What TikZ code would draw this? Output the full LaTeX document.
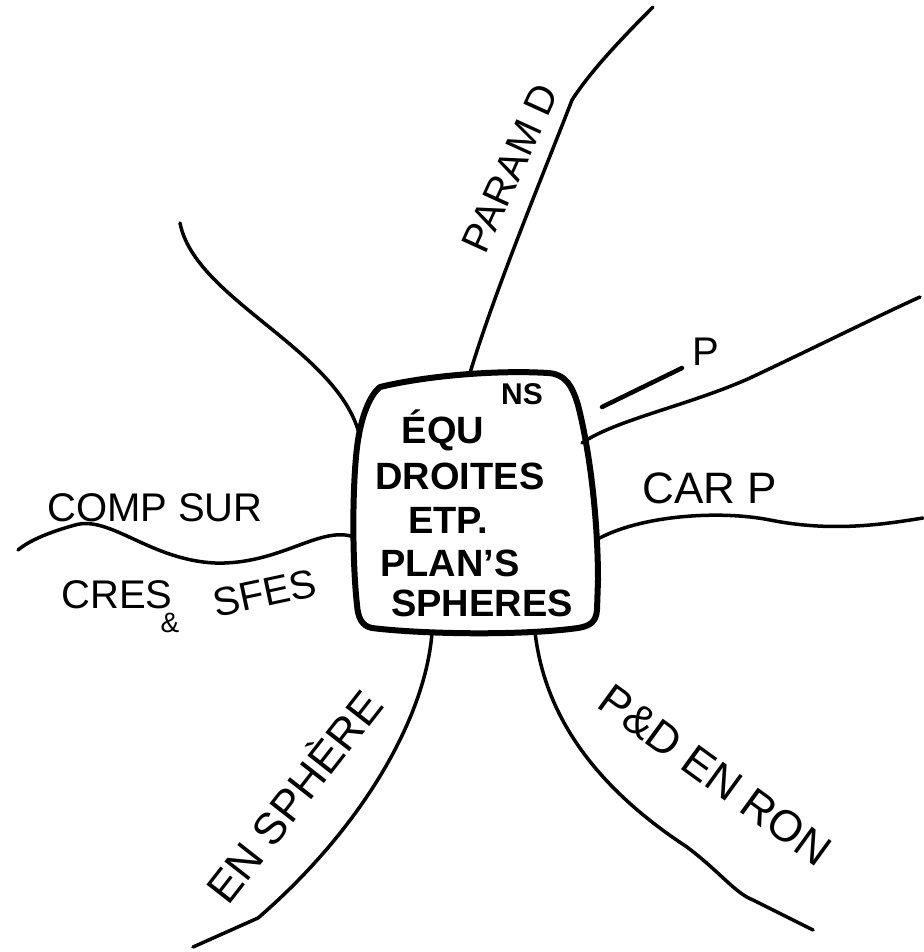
\documentclass[tikz,border=0pt]{standalone}
\usepackage{fontspec}
\setmainfont{Liberation Sans}
\begin{document}
\begin{tikzpicture}[x=1pt,y=-1pt,
  conn/.style={line width=3.5pt,line cap=round,line join=round},
  boxline/.style={line width=6pt,line join=round},
  lbl/.style={inner sep=0pt,font=\fontsize{40}{44}\selectfont},
  boxtxt/.style={inner sep=0pt,font=\fontsize{38}{42}\selectfont\bfseries}]
\useasboundingbox[fill=white] (0,0) rectangle (923,952);

% central box
\draw[boxline] (380,387) .. controls (430,375) and (500,370) .. (548,373)
  .. controls (565,374) and (572,385) .. (578,405)
  .. controls (592,460) and (598,530) .. (598,580)
  -- (597,610) .. controls (596,622) and (590,626) .. (578,628)
  .. controls (520,636) and (420,634) .. (372,628)
  .. controls (362,626) and (358,618) .. (357,605)
  .. controls (352,560) and (352,480) .. (358,440)
  .. controls (362,415) and (370,395) .. (380,387) -- cycle;

\coordinate (bT) at (470,373);
\coordinate (bTL) at (360,437);
\coordinate (bR1) at (582,443);
\coordinate (bR2) at (596,540);
\coordinate (bL) at (354,537);
\coordinate (bB1) at (432,633);
\coordinate (bB2) at (535,632);

\coordinate (eT) at (653,7);
\coordinate (eTL) at (180,223);
\coordinate (eR1) at (920,297);
\coordinate (eR2) at (923,518);
\coordinate (eL) at (18,550);
\coordinate (eB1) at (193,947);
\coordinate (eB2) at (813,930);

% box text
\node[boxtxt] (t1) at (443,430) {ÉQU};
\node[boxtxt,font=\fontsize{30}{34}\selectfont\bfseries] (t1b) at (522,394) {NS};
\node[boxtxt] (t2) at (460,476) {DROITES};
\node[boxtxt] (t3) at (448,520) {ETP.};
\node[boxtxt] (t4) at (450,563) {PLAN'S};
\node[boxtxt] (t5) at (482,603) {SPHERES};

% connectors
\draw[conn] (bT) .. controls (495,290) and (545,170) .. (572,100)
  .. controls (590,72) and (620,40) .. (eT);
\draw[conn] (eTL) .. controls (195,300) and (340,350) .. (bTL);
\draw[conn] (bR1) .. controls (615,420) and (690,405) .. (750,378)
  .. controls (820,345) and (880,315) .. (eR1);
\draw[conn] (bR2) .. controls (640,515) and (720,510) .. (770,520)
  .. controls (830,532) and (880,525) .. (eR2);
\draw[conn] (bL) .. controls (320,525) and (280,565) .. (215,563)
  .. controls (150,560) and (110,515) .. (75,525)
  .. controls (50,532) and (30,540) .. (eL);
\draw[conn] (bB1) .. controls (425,720) and (360,830) .. (258,918) -- (eB1);
\draw[conn] (bB2) .. controls (545,720) and (600,790) .. (687,847)
  .. controls (720,872) and (735,893) .. (753,900) -- (eB2);

% little dash before P
\coordinate (d1) at (602,407);
\coordinate (d2) at (682,368);
\draw[conn,line width=4.5pt] (d1) -- (d2);

% labels
\node[lbl,rotate=65.5] (lT) at (510,168) {PARAM D};
\node[lbl] (lP) at (706,352) {P};
\node[lbl,font=\fontsize{44}{48}\selectfont] (lR2) at (710,488) {CAR P};
\node[lbl] (lL1) at (155,508) {COMP SUR};
\node[lbl] (lL2) at (117,595) {CRES};
\node[lbl,font=\fontsize{28}{32}\selectfont] (lL3) at (170,623) {\&};
\node[lbl,rotate=12] (lL4) at (265,593) {SFES};
\node[lbl,font=\fontsize{44}{48}\selectfont,rotate=52] (lB1) at (292,795) {EN SPHÈRE};
\node[lbl,font=\fontsize{44}{48}\selectfont,rotate=-36] (lB2) at (715,775) {P\&D EN RON};
\end{tikzpicture}
\end{document}
